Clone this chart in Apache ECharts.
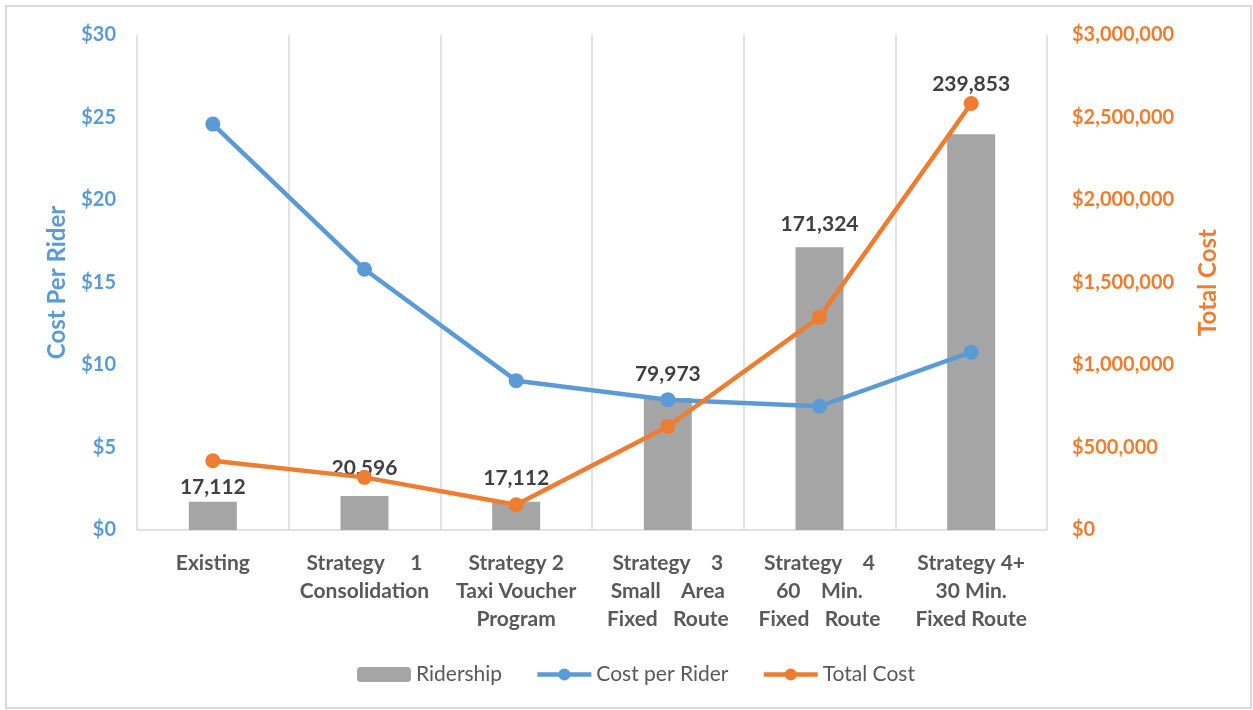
<!DOCTYPE html>
<html>
<head>
<meta charset="utf-8">
<script src="https://cdn.jsdelivr.net/npm/echarts@6/dist/echarts.min.js"></script>
<style>
html,body{margin:0;padding:0;background:#fff;}
#chart{width:1253px;height:710px;}
</style>
</head>
<body>
<div id="chart"></div>
<script>
// ---- data ----
var categories = [
  'Existing',
  'Strategy     1\nConsolidation',
  'Strategy 2\nTaxi Voucher\nProgram',
  'Strategy    3\nSmall    Area\nFixed   Route',
  'Strategy    4\n60    Min.\nFixed   Route',
  'Strategy 4+\n30 Min.\nFixed Route'
];
var ridership = [17112, 20596, 17112, 79973, 171324, 239853];
var costPerRider = [24.6, 15.8, 9.05, 7.9, 7.5, 10.78];
var totalCost = [420000, 319000, 153000, 627000, 1290000, 2585000];
var leftTicks = [0, 5, 10, 15, 20, 25, 30];
var rightTicks = [0, 500000, 1000000, 1500000, 2000000, 2500000, 3000000];

// ---- styling ----
var FONT = 'Lato';
var BLUE = '#5B9BD5', ORANGE = '#ED7D31', GRAY = '#A5A5A5', GRID = '#D9D9D9';
var labelDistances = [4, 17, 13, 13, 13, 40];

function money(v) {
  return '$' + String(v).replace(/\B(?=(\d{3})+(?!\d))/g, ',');
}

var chart = echarts.init(document.getElementById('chart'));
chart.setOption({
  animation: false,
  textStyle: { fontFamily: FONT },
  graphic: [{
    type: 'rect', silent: true,
    shape: { x: 6, y: 6, width: 1245, height: 702 },
    style: { fill: 'none', stroke: '#D9D9D9', lineWidth: 2 }
  }],
  grid: { left: 137, right: 206, top: 35, bottom: 180 },
  legend: {
    left: 352, top: 659,
    itemGap: 33, itemWidth: 54, itemHeight: 15,
    lineStyle: { width: 4.5 },
    textStyle: { fontFamily: FONT, fontSize: 21, color: '#595959' },
    data: ['Ridership', 'Cost per Rider', 'Total Cost']
  },
  xAxis: {
    type: 'category',
    data: categories,
    axisLine: { lineStyle: { color: GRID, width: 1.5 } },
    axisTick: { show: false },
    splitLine: { show: true, lineStyle: { color: GRID, width: 1.5 } },
    axisLabel: {
      interval: 0, margin: 19,
      fontFamily: FONT, fontSize: 21, fontWeight: 'bold', color: '#595959',
      lineHeight: 28
    }
  },
  yAxis: [{
    type: 'value', min: leftTicks[0], max: leftTicks[leftTicks.length - 1], interval: 5,
    position: 'left',
    name: 'Cost Per Rider', nameLocation: 'middle', nameGap: 68, nameRotate: 90,
    nameTextStyle: { fontFamily: FONT, fontSize: 24, fontWeight: 'bold', color: BLUE },
    axisLine: { show: false }, axisTick: { show: false }, splitLine: { show: false },
    axisLabel: { margin: 21, fontFamily: FONT, fontSize: 20, fontWeight: 'bold', color: BLUE,
      formatter: function (v) { return money(v); } }
  }, {
    type: 'value', min: rightTicks[0], max: rightTicks[rightTicks.length - 1], interval: 500000,
    position: 'right',
    name: 'Total Cost', nameLocation: 'middle', nameGap: 149, nameRotate: 90,
    nameTextStyle: { fontFamily: FONT, fontSize: 24, fontWeight: 'bold', color: ORANGE },
    axisLine: { show: false }, axisTick: { show: false }, splitLine: { show: false },
    axisLabel: { margin: 25, fontFamily: FONT, fontSize: 20, fontWeight: 'bold', color: ORANGE,
      formatter: function (v) { return money(v); } }
  }, {
    type: 'value', min: 0, max: 300000, show: false
  }],
  series: [{
    name: 'Ridership', type: 'bar', yAxisIndex: 2, z: 1,
    barWidth: 48,
    itemStyle: { color: GRAY },
    data: ridership.map(function (v, i) {
      return { value: v, label: { distance: labelDistances[i] } };
    }),
    label: {
      show: true, position: 'top',
      fontFamily: FONT, fontSize: 21, fontWeight: 'bold', color: '#404040',
      formatter: function (p) { return String(p.value).replace(/\B(?=(\d{3})+(?!\d))/g, ','); }
    }
  }, {
    name: 'Cost per Rider', type: 'line', yAxisIndex: 0, z: 3,
    data: costPerRider,
    symbol: 'circle', symbolSize: 15,
    lineStyle: { color: BLUE, width: 4.5 },
    itemStyle: { color: BLUE }
  }, {
    name: 'Total Cost', type: 'line', yAxisIndex: 1, z: 4,
    data: totalCost,
    symbol: 'circle', symbolSize: 15,
    lineStyle: { color: ORANGE, width: 4.5 },
    itemStyle: { color: ORANGE }
  }]
});
</script>
</body>
</html>
